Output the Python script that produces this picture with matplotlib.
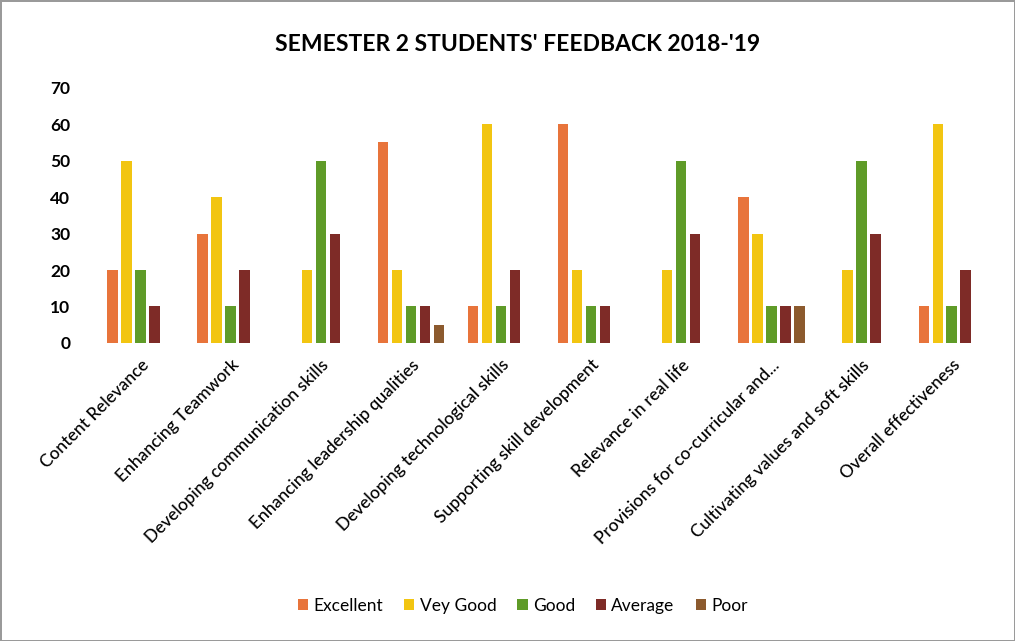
import matplotlib
matplotlib.use("Agg")
import matplotlib.pyplot as plt
import numpy as np

# data
categories = ["Content Relevance", "Enhancing Teamwork", "Developing communication skills",
              "Enhancing leadership qualities", "Developing technological skills",
              "Supporting skill development", "Relevance in real life",
              "Provisions for co-curricular and...", "Cultivating values and soft skills",
              "Overall effectiveness"]
excellent = [20, 30, 0, 55, 10, 60, 0, 40, 0, 10]
very_good = [50, 40, 20, 20, 60, 20, 20, 30, 20, 60]
good = [20, 10, 50, 10, 10, 10, 50, 10, 50, 10]
average = [10, 20, 30, 10, 20, 10, 30, 10, 30, 20]
poor = [0, 0, 0, 5, 0, 0, 0, 10, 0, 0]

series = [("Excellent", excellent, "#E8743B"),
          ("Vey Good", very_good, "#F2C511"),
          ("Good", good, "#5F9B28"),
          ("Average", average, "#7E2B27"),
          ("Poor", poor, "#8C5A2E")]

plt.rcParams['font.family'] = ['Lato', 'DejaVu Sans']

fig = plt.figure(figsize=(10.15, 6.41), dpi=100)
fig.patch.set_edgecolor("#9a9a9a")
fig.patch.set_linewidth(2)
ax = fig.add_axes([0.094, 0.465, 0.888, 0.398])

x = np.arange(len(categories))
w = 0.115
step = 0.155
for i, (name, vals, col) in enumerate(series):
    ax.bar(x + (i - 2) * step, vals, width=w, color=col, label=name)

ax.set_xlim(-0.5, len(categories) - 0.5)
ax.set_ylim(0, 70)
ax.set_yticks(range(0, 71, 10))
ax.tick_params(axis='y', length=0, labelsize=12.5, pad=18)
for t in ax.get_yticklabels():
    t.set_fontweight('bold')
ax.set_xticks(x)
ax.set_xticklabels(categories, rotation=45, ha='right', rotation_mode='anchor',
                   fontsize=12.5, fontweight='medium')
ax.tick_params(axis='x', length=0, pad=10)
for s in ax.spines.values():
    s.set_visible(False)

fig.text(0.51, 0.93, "SEMESTER 2 STUDENTS' FEEDBACK 2018-'19", ha='center', va='center',
         fontsize=16.5, fontweight='bold')
fig.legend(loc='center', bbox_to_anchor=(0.515, 0.055), ncol=5, frameon=False,
           fontsize=12.5, handlelength=0.6, handleheight=0.6, columnspacing=1.2, handletextpad=0.3)

fig.savefig("out.png", dpi=100)
